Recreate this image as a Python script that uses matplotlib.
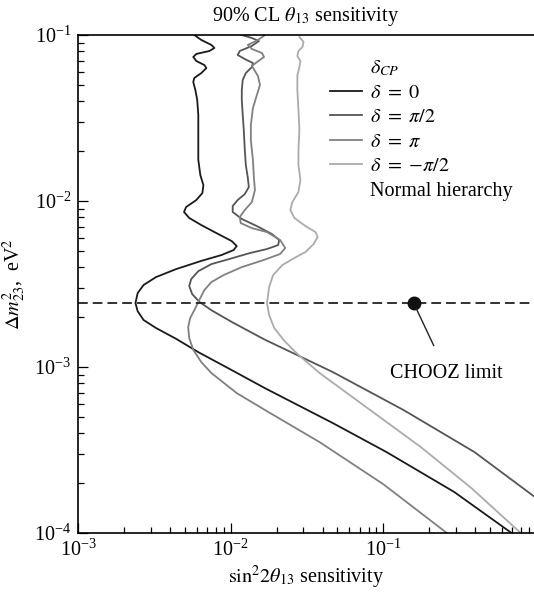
import numpy as np
import matplotlib
matplotlib.use("Agg")
import matplotlib.pyplot as plt
from matplotlib.lines import Line2D

plt.rcParams['font.family'] = ['Liberation Serif', 'DejaVu Serif']
plt.rcParams['mathtext.fontset'] = 'stix'
plt.rcParams['lines.scale_dashes'] = False

# sensitivity curves (sin^2 2theta13 vs dm^2_23)
d0_x = [0.00578, 0.00643, 0.00748, 0.00783, 0.00726, 0.00596, 0.00569, 0.00596,
        0.00673, 0.00693, 0.00643, 0.00578, 0.00569, 0.00587, 0.00604, 0.00614,
        0.00614, 0.00614, 0.00633, 0.00663, 0.00653, 0.00596, 0.00511, 0.00495,
        0.00535, 0.00643, 0.00807, 0.01016, 0.01096, 0.01047, 0.00872, 0.00643,
        0.00439, 0.00324, 0.00269, 0.00246, 0.00238, 0.00246, 0.00269, 0.00324,
        0.00439, 0.00614, 0.01016, 0.01679, 0.04667, 0.1047, 0.2909, 0.693]
d0_y = [0.1, 0.0933, 0.0871, 0.0835, 0.0801, 0.0769, 0.0737, 0.0697,
        0.0659, 0.0632, 0.0590, 0.0551, 0.0521, 0.0467, 0.0406, 0.0330,
        0.0250, 0.0177, 0.01435, 0.01247, 0.01117, 0.01014, 0.00920, 0.00859,
        0.00791, 0.00716, 0.00641, 0.00574, 0.00536, 0.00507, 0.00473, 0.00436,
        0.00389, 0.00348, 0.00312, 0.00279, 0.00243, 0.00217, 0.00192, 0.00172,
        0.00148, 0.00123, 0.000959, 0.000746, 0.000460, 0.000308, 0.000177, 0.0001]

dpi2_x = [0.01183, 0.01377, 0.01532, 0.01377, 0.01148, 0.01112, 0.01238, 0.01399,
          0.01377, 0.01257, 0.01200, 0.01183, 0.01183, 0.01200, 0.01219, 0.01238,
          0.01257, 0.01296, 0.01315, 0.01238, 0.01112, 0.01031, 0.01031, 0.01183,
          0.01486, 0.01869, 0.02078, 0.02048, 0.01730, 0.01336, 0.00985, 0.00748,
          0.00614, 0.00552, 0.00535, 0.00560, 0.00624, 0.00748, 0.01016, 0.01679,
          0.02735, 0.04667, 0.1357, 0.3945, 1.047]
dpi2_y = [0.1, 0.0959, 0.0920, 0.0859, 0.0801, 0.0758, 0.0716, 0.0678,
          0.0641, 0.0590, 0.0536, 0.0467, 0.0406, 0.0330, 0.0268, 0.0203,
          0.0165, 0.01377, 0.01214, 0.01101, 0.01014, 0.00933, 0.00859, 0.00780,
          0.00706, 0.00632, 0.00582, 0.00543, 0.00514, 0.00486, 0.00448, 0.00417,
          0.00378, 0.00339, 0.00308, 0.00275, 0.00247, 0.00220, 0.00187, 0.00146,
          0.00118, 0.000933, 0.000551, 0.000308, 0.000158]

dpi_x = [0.01679, 0.01510, 0.01296, 0.01377, 0.01604, 0.01654, 0.01486, 0.01377,
         0.01442, 0.01510, 0.01556, 0.01486, 0.01399, 0.01356, 0.01356, 0.01399,
         0.01419, 0.01442, 0.01377, 0.01238, 0.01148, 0.01164, 0.01377, 0.01730,
         0.02111, 0.02278, 0.02111, 0.01654, 0.01183, 0.00899, 0.00748, 0.00673,
         0.00624, 0.00578, 0.00543, 0.00527, 0.00535, 0.00569, 0.00643, 0.00748,
         0.01096, 0.01679, 0.03828, 0.1000, 0.2612]
dpi_y = [0.1, 0.0933, 0.0871, 0.0824, 0.0779, 0.0737, 0.0687, 0.0650,
         0.0607, 0.0566, 0.0500, 0.0436, 0.0363, 0.0287, 0.0233, 0.0177,
         0.0140, 0.01164, 0.00986, 0.00883, 0.00801, 0.00736, 0.00687, 0.00650,
         0.00582, 0.00521, 0.00480, 0.00442, 0.00400, 0.00358, 0.00325, 0.00291,
         0.00254, 0.00220, 0.00197, 0.00174, 0.00150, 0.00127, 0.00107, 0.000920,
         0.000697, 0.000551, 0.000353, 0.000197, 0.0001]

dmpi2_x = [0.02821, 0.03001, 0.02954, 0.02780, 0.02735, 0.02864, 0.02821, 0.02735,
           0.02735, 0.02780, 0.02821, 0.02780, 0.02780, 0.02864, 0.02780, 0.02535,
           0.02459, 0.02613, 0.03091, 0.03600, 0.03715, 0.03493, 0.03091, 0.02613,
           0.02177, 0.01897, 0.01786, 0.01730, 0.01786, 0.01928, 0.02244, 0.02735,
           0.03828, 0.0820, 0.1758, 0.3767, 0.796]
dmpi2_y = [0.0973, 0.0908, 0.0847, 0.0801, 0.0747, 0.0697, 0.0641, 0.0574,
           0.0467, 0.0353, 0.0268, 0.0203, 0.0165, 0.0134, 0.01133, 0.00986,
           0.00883, 0.00791, 0.00706, 0.00650, 0.00607, 0.00551, 0.00493, 0.00454,
           0.00411, 0.00358, 0.00303, 0.00243, 0.00206, 0.00172, 0.00144, 0.00120,
           0.000920, 0.000551, 0.000330, 0.000187, 0.0001]

chooz_x = 0.158
chooz_dm2 = 0.00243

labels = [r'$\delta\ =\ 0$', r'$\delta\ =\ \pi/2$', r'$\delta\ =\ \pi$', r'$\delta\ =\ {-}\pi/2$']
colors = ['#1a1a1a', '#555555', '#808080', '#ababab']

fig = plt.figure(figsize=(5.34, 5.93), dpi=100)
ax = fig.add_axes([0.146, 0.101, 0.854, 0.840])

curves = [(d0_x, d0_y), (dpi2_x, dpi2_y), (dpi_x, dpi_y), (dmpi2_x, dmpi2_y)]
for (xs, ys), c, lab in zip(curves, colors, labels):
    ax.plot(xs, ys, color=c, lw=1.3, label=lab, solid_joinstyle='round')

ax.axhline(chooz_dm2, color='#222222', lw=1.3, dashes=[7, 3.6])
ax.plot([chooz_x], [chooz_dm2], 'o', color='#111111', ms=9)
ax.annotate('CHOOZ limit', xy=(chooz_x, chooz_dm2), xytext=(0.26, 0.00092),
            ha='center', va='center', fontsize=14.5,
            arrowprops=dict(arrowstyle='-', color='#222222', lw=1.0,
                            shrinkA=12, shrinkB=5))

ax.set_xscale('log')
ax.set_yscale('log')
ax.set_xlim(1e-3, 0.97)
ax.set_ylim(1e-4, 1e-1)

ax.spines['right'].set_visible(False)
for s in ['left', 'bottom', 'top']:
    ax.spines[s].set_linewidth(1.2)
ax.tick_params(which='both', direction='in', top=False, right=False,
               labelsize=14.5, width=0.9)
ax.tick_params(which='major', length=7, pad=5)
ax.tick_params(which='minor', length=4.5)

ax.set_xlabel(r'$\mathrm{sin}^2 2\theta_{13}$ sensitivity', fontsize=14.5, labelpad=2)
ax.set_ylabel(r'$\Delta m^2_{23}$,  eV$^2$', fontsize=14.5, labelpad=4)
ax.set_title(r'90% CL $\theta_{13}$ sensitivity', fontsize=14.5, pad=10)

blank = Line2D([], [], linestyle='none')
handles = [blank] + ax.get_lines()[:4] + [blank]
texts = [r'$\delta_{CP}$'] + labels + ['Normal hierarchy']
ax.legend(handles, texts, loc='upper left', bbox_to_anchor=(0.553, 0.953),
          frameon=False, fontsize=14.5, handlelength=1.6, handletextpad=0.4,
          labelspacing=0.27, borderpad=0, borderaxespad=0)

fig.savefig('out.png', dpi=100)
